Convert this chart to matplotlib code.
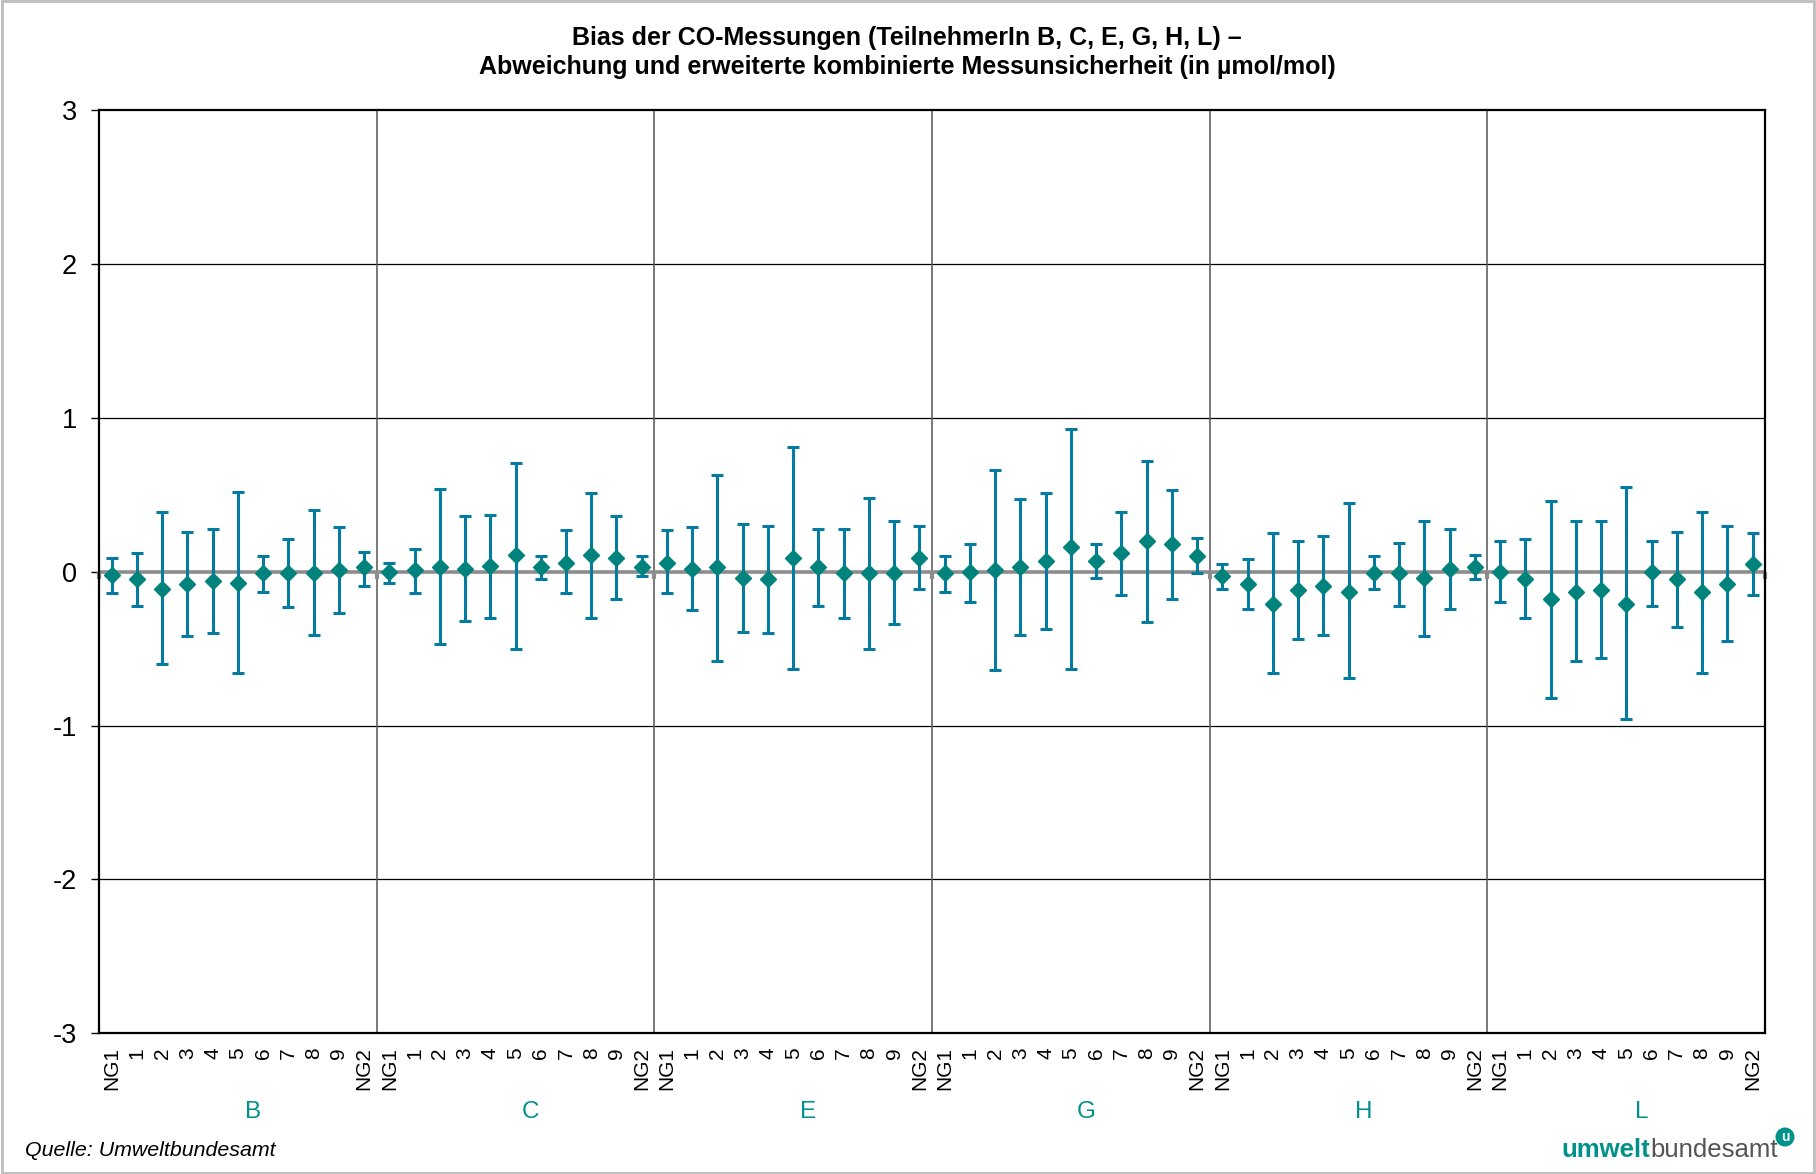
import matplotlib.pyplot as plt
import numpy as np

plt.rcParams["font.family"] = ["Liberation Sans", "DejaVu Sans"]

# participants and measurement labels
groups = ["B", "C", "E", "G", "H", "L"]
samples = ["NG1", "1", "2", "3", "4", "5", "6", "7", "8", "9", "NG2"]

# bias per participant (µmol/mol)
bias_B = [-0.02, -0.05, -0.11, -0.08, -0.06, -0.07, -0.01, -0.01, -0.01, 0.01, 0.03]
bias_C = [0.00, 0.01, 0.03, 0.02, 0.04, 0.11, 0.03, 0.06, 0.11, 0.09, 0.03]
bias_E = [0.06, 0.02, 0.03, -0.04, -0.05, 0.09, 0.03, -0.01, -0.01, -0.01, 0.09]
bias_G = [-0.01, 0.00, 0.01, 0.03, 0.07, 0.16, 0.07, 0.12, 0.20, 0.18, 0.10]
bias_H = [-0.03, -0.08, -0.21, -0.12, -0.09, -0.13, -0.01, -0.01, -0.04, 0.02, 0.03]
bias_L = [0.00, -0.05, -0.18, -0.13, -0.12, -0.21, 0.00, -0.05, -0.13, -0.08, 0.05]

# upper end of the uncertainty interval
upper_B = [0.09, 0.12, 0.39, 0.26, 0.28, 0.52, 0.10, 0.21, 0.40, 0.29, 0.13]
upper_C = [0.06, 0.15, 0.54, 0.36, 0.37, 0.71, 0.10, 0.27, 0.51, 0.36, 0.10]
upper_E = [0.27, 0.29, 0.63, 0.31, 0.30, 0.81, 0.28, 0.28, 0.48, 0.33, 0.30]
upper_G = [0.10, 0.18, 0.66, 0.47, 0.51, 0.93, 0.18, 0.39, 0.72, 0.53, 0.22]
upper_H = [0.05, 0.08, 0.25, 0.20, 0.23, 0.45, 0.10, 0.19, 0.33, 0.28, 0.11]
upper_L = [0.20, 0.21, 0.46, 0.33, 0.33, 0.55, 0.20, 0.26, 0.39, 0.30, 0.25]

# lower end of the uncertainty interval
lower_B = [-0.14, -0.22, -0.60, -0.42, -0.40, -0.66, -0.13, -0.23, -0.41, -0.27, -0.09]
lower_C = [-0.07, -0.14, -0.47, -0.32, -0.30, -0.50, -0.05, -0.14, -0.30, -0.18, -0.03]
lower_E = [-0.14, -0.25, -0.58, -0.39, -0.40, -0.63, -0.22, -0.30, -0.50, -0.34, -0.11]
lower_G = [-0.13, -0.20, -0.64, -0.41, -0.37, -0.63, -0.04, -0.15, -0.33, -0.18, -0.01]
lower_H = [-0.11, -0.24, -0.66, -0.44, -0.41, -0.69, -0.11, -0.22, -0.42, -0.24, -0.05]
lower_L = [-0.20, -0.30, -0.82, -0.58, -0.56, -0.96, -0.22, -0.36, -0.66, -0.45, -0.15]

yticks = [-3, -2, -1, 0, 1, 2, 3]

BAR_COLOR = "#057ba2"
MARKER_COLOR = "#00837c"
LABEL_COLOR = "#00928a"

bias = np.array(bias_B + bias_C + bias_E + bias_G + bias_H + bias_L)
upper = np.array(upper_B + upper_C + upper_E + upper_G + upper_H + upper_L)
lower = np.array(lower_B + lower_C + lower_E + lower_G + lower_H + lower_L)
n_per = len(samples)
x = np.arange(len(bias))
boundaries = np.arange(len(groups) + 1) * n_per - 0.5

fig = plt.figure(figsize=(18.16, 11.74), dpi=100)
ax = fig.add_axes([0.0545, 0.120, 0.9175, 0.786])

# grid and group separators
for y in [-2, -1, 1, 2]:
    ax.axhline(y, color="black", lw=0.9, zorder=1)
for b in boundaries[1:-1]:
    ax.axvline(b, color="#555555", lw=1.1, zorder=1)
ax.axhline(0, color="#8c8c8c", lw=2.6, zorder=2)
ax.plot(boundaries, np.zeros_like(boundaries), ls="none", marker=3,
        markersize=5, mew=3, color="#8c8c8c", zorder=2, clip_on=False)

ax.errorbar(x, bias, yerr=[bias - lower, upper - bias], fmt="none",
            ecolor=BAR_COLOR, elinewidth=2.2, capsize=4.4, capthick=2.2, zorder=3)
ax.plot(x, bias, ls="none", marker="D", markersize=8.6, color=MARKER_COLOR,
        mec=MARKER_COLOR, zorder=4)

ax.set_xlim(-0.5, len(bias) - 0.5)
ax.set_ylim(-3, 3)
ax.set_yticks(yticks)
ax.set_yticklabels([str(t) for t in yticks], fontsize=19.5)
ax.tick_params(axis="y", direction="out", length=6, width=1, pad=10)
ax.set_xticks(x)
ax.set_xticklabels(samples * len(groups), rotation=90, fontsize=15)
ax.tick_params(axis="x", length=0, pad=10)
for s in ax.spines.values():
    s.set_linewidth(1.6)
    s.set_color("black")

# participant letters under each block
group_y = 1 - 1112 / 1174
for i, g in enumerate(groups):
    ax.annotate(g, xy=(i * n_per + (n_per - 1) / 2, group_y),
                xycoords=("data", "figure fraction"),
                xytext=(11, 0), textcoords="offset points",
                fontsize=17.5, color=LABEL_COLOR, ha="center", va="center",
                annotation_clip=False)

fig.text(0.4995, 1 - 38 / 1174, "Bias der CO-Messungen (TeilnehmerIn B, C, E, G, H, L) \u2013",
         ha="center", va="center", fontsize=18, fontweight="bold")
fig.text(0.4995, 1 - 67 / 1174, "Abweichung und erweiterte kombinierte Messunsicherheit (in \u00b5mol/mol)",
         ha="center", va="center", fontsize=18, fontweight="bold")

fig.text(25 / 1816, 1 - 1150 / 1174, "Quelle: Umweltbundesamt", fontsize=15.4,
         style="italic", ha="left", va="center")

# logo text
bund = fig.text(1778 / 1816, 1 - 1157 / 1174, "bundesamt", fontsize=18.5,
                color="#555555", ha="right", va="baseline")
fig.canvas.draw()
bb = bund.get_window_extent()
fig.text(bb.x0 / 1816, 1 - 1157 / 1174, "umwelt", fontsize=18.5, fontweight="bold",
         color=LABEL_COLOR, ha="right", va="baseline")
fig.text((bb.x1 + 7) / 1816, 1 - 1137 / 1174, "u", fontsize=10, fontweight="bold",
         color="white", ha="center", va="center",
         bbox=dict(boxstyle="circle,pad=0.18", fc=LABEL_COLOR, ec="none"))

fig.patches.append(plt.Rectangle((0.001, 0.001), 0.998, 0.998, transform=fig.transFigure,
                                 fill=False, ec="#bdbdbd", lw=2))

fig.savefig("out.png", dpi=100)
